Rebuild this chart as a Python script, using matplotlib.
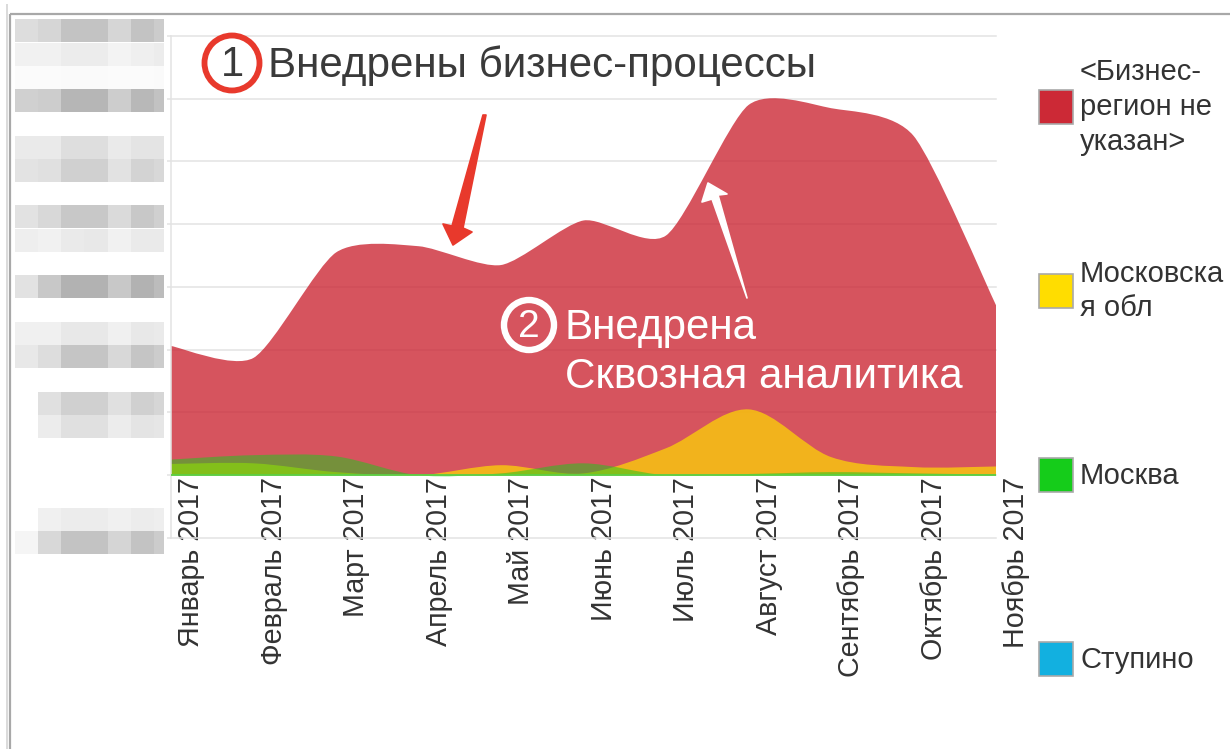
import matplotlib
matplotlib.use('Agg')
import matplotlib.pyplot as plt
from matplotlib.path import Path
from matplotlib.patches import PathPatch, Rectangle, Polygon, Circle
from matplotlib.transforms import ScaledTranslation

plt.rcParams['font.family'] = ['Liberation Sans', 'DejaVu Sans']

months = ['Январь 2017', 'Февраль 2017', 'Март 2017', 'Апрель 2017', 'Май 2017', 'Июнь 2017',
          'Июль 2017', 'Август 2017', 'Сентябрь 2017', 'Октябрь 2017', 'Ноябрь 2017']
region_none = [206, 187, 355, 365, 335, 406, 382, 590, 585, 541, 271]
moscow_obl = [18, 19, 5, 0, 16, 3, 43, 105, 29, 13, 14]
moscow = [25, 32, 30, 0, 3, 19, 0, 2, 5, 3, 1]
stupino = [0, 0, 0, 0, 0, 0, 0, 0, 0, 0, 0]

legend_labels = ['<Бизнес-\nрегион не\nуказан>', 'Московска\nя обл', 'Москва', 'Ступино']
legend_colors = ['#cc2936', '#ffdd00', '#15cc1a', '#12b0e0']

# pixelated labels on the left: top y, left x, greys per column
col_edges = [15, 38, 61, 84, 108, 131, 154, 164]
blur_rows = [
    (19, ['#dddddd', '#d6d6d6', '#c3c3c3', '#c3c3c3', '#d6d6d6', '#c3c3c3', '#cccccc']),
    (43, ['#f1f1f1', '#f1f1f1', '#ececec', '#ececec', '#f3f3f3', '#efefef', '#ececec']),
    (66, ['#fbfbfb', '#fbfbfb', '#fafafa', '#fafafa', '#fbfbfb', '#fbfbfb', '#fafafa']),
    (89, ['#d0d0d0', '#cdcdcd', '#b6b6b6', '#b6b6b6', '#cdcdcd', '#b8b8b8', '#c2c2c2']),
    (136, ['#eaeaea', '#eaeaea', '#dedede', '#dedede', '#eaeaea', '#e4e4e4', '#e4e4e4']),
    (159, ['#e3e3e3', '#e0e0e0', '#d0d0d0', '#d0d0d0', '#e2e2e2', '#d3d3d3', '#d8d8d8']),
    (205, ['#e2e2e2', '#d8d8d8', '#c8c8c8', '#c8c8c8', '#dadada', '#c8c8c8', '#d0d0d0']),
    (229, ['#eeeeee', '#f1f1f1', '#eaeaea', '#e8e8e8', '#f1f1f1', '#eaeaea', '#eaeaea']),
    (275, ['#e2e2e2', '#c8c8c8', '#b2b2b2', '#b2b2b2', '#c8c8c8', '#b2b2b2', '#bcbcbc']),
    (322, ['#f0f0f0', '#f0f0f0', '#e8e8e8', '#e8e8e8', '#f0f0f0', '#e8e8e8', '#eaeaea']),
    (345, ['#e8e8e8', '#dddddd', '#c5c5c5', '#c5c5c5', '#d8d8d8', '#c5c5c5', '#cccccc']),
    (392, ['#ffffff', '#e0e0e0', '#d0d0d0', '#d0d0d0', '#e0e0e0', '#d0d0d0', '#d6d6d6']),
    (415, ['#ffffff', '#ececec', '#e0e0e0', '#e0e0e0', '#ececec', '#e4e4e4', '#e6e6e6']),
    (508, ['#ffffff', '#f0f0f0', '#ececec', '#ececec', '#f0f0f0', '#ececec', '#eeeeee']),
    (531, ['#f5f5f5', '#d8d8d8', '#c3c3c3', '#c3c3c3', '#d5d5d5', '#c3c3c3', '#cccccc']),
]


def smooth_area(values, k=0.12):
    # cardinal spline through the monthly values, closed along zero
    n = len(values)
    verts = [(0, 0), (0, values[0])]
    codes = [Path.MOVETO, Path.LINETO]
    for i in range(n - 1):
        prev_v = values[max(i - 1, 0)]
        next_v = values[min(i + 2, n - 1)]
        prev_x = max(i - 1, 0)
        next_x = min(i + 2, n - 1)
        c1 = (i + (i + 1 - prev_x) * k, values[i] + (values[i + 1] - prev_v) * k)
        c2 = (i + 1 - (next_x - i) * k, values[i + 1] - (next_v - values[i]) * k)
        verts += [c1, c2, (i + 1, values[i + 1])]
        codes += [Path.CURVE4] * 3
    verts += [(n - 1, 0), (0, 0)]
    codes += [Path.LINETO, Path.CLOSEPOLY]
    return Path(verts, codes)


W, H = 1230, 749
fig = plt.figure(figsize=(W / 100, H / 100), dpi=100, facecolor='white')

# chart area in picture pixels: x 171-996, y 36-538
ax = fig.add_axes([171 / W, 1 - 538 / H, (996 - 171) / W, (538 - 36) / H])
ax.set_xlim(0, 10)
ax.set_ylim(-100, 700)
ax.set_yticks(range(-100, 701, 100))
ax.set_yticklabels([])
ax.set_xticks(range(len(months)))
ax.set_xticklabels(months, rotation=90, fontsize=20.6, color='#333333', va='top', ha='center')
ax.tick_params(axis='x', length=0, pad=2)
ax.tick_params(axis='y', length=3, width=1.1, color='#e3e3e3', pad=0)
for lab in ax.get_xticklabels():
    lab.set_transform(lab.get_transform() + ScaledTranslation(20 / 100, 64 / 100, fig.dpi_scale_trans))
ax.grid(axis='y', color='#e3e3e3', linewidth=1.1, clip_on=False)
ax.set_axisbelow(True)
for name in ['top', 'right', 'bottom']:
    ax.spines[name].set_visible(False)
ax.spines['left'].set_color('#e3e3e3')
ax.spines['left'].set_linewidth(1.1)

for vals, col, alpha, k in [(region_none, legend_colors[0], 0.8, 0.12), (moscow_obl, legend_colors[1], 0.7, 0.16),
                            (moscow, legend_colors[2], 0.5, 0.16), (stupino, legend_colors[3], 0.5, 0.16)]:
    ax.add_patch(PathPatch(smooth_area(vals, k), facecolor=col, edgecolor='none', alpha=alpha, zorder=2))
ax.axhline(0, color='#5ccf45', linewidth=1.3, zorder=3)

# everything else sits on an overlay in pixel coordinates
ov = fig.add_axes([0, 0, 1, 1], zorder=5)
ov.set_xlim(0, W)
ov.set_ylim(H, 0)
ov.axis('off')
ov.patch.set_alpha(0)

ov.plot([10, 1230], [14, 14], color='#a8a8a8', lw=1.6, solid_capstyle='butt')
ov.plot([9.5, 9.5], [14, 749], color='#a8a8a8', lw=1.6, solid_capstyle='butt')
ov.plot([6.5, 6.5], [4, 749], color='#d4d4d4', lw=1.2, solid_capstyle='butt')

for top, greys in blur_rows:
    for j, g in enumerate(greys):
        ov.add_patch(Rectangle((col_edges[j], top), col_edges[j + 1] - col_edges[j], 23,
                               facecolor=g, edgecolor='none'))

# legend
legend_y = [90, 274, 458, 642]
legend_text_y = [107, 291, 476, 660]
for lab, col, y, ty in zip(legend_labels, legend_colors, legend_y, legend_text_y):
    ov.add_patch(Rectangle((1039, y), 34, 34, facecolor=col, edgecolor='#a9a9a9', linewidth=1.2))
    ov.text(1080, ty, lab, fontsize=21, color='#333333', va='center', ha='left', linespacing=1.3)

# hand-drawn notes
ov.add_patch(Circle((232, 63), 27.5, facecolor='white', edgecolor='#e8392c', linewidth=4.2))
ov.text(232, 65, '1', fontsize=30, color='#3a3a3a', ha='center', va='center')
ov.text(268, 66, 'Внедрены бизнес-процессы', fontsize=30.3, color='#3a3a3a', ha='left', va='center')
ov.add_patch(Polygon([(483, 115), (486, 115), (463, 228), (472, 232), (453, 245), (443, 224), (452, 226)],
                     closed=True, facecolor='#e8392c', edgecolor='#e8392c', linewidth=1.2, joinstyle='round'))

ov.add_patch(Circle((529, 325), 25, facecolor='none', edgecolor='white', linewidth=4.6))
ov.text(529, 327, '2', fontsize=28, color='white', ha='center', va='center')
ov.text(565, 328, 'Внедрена', fontsize=30.3, color='white', ha='left', va='center')
ov.text(565, 377, 'Сквозная аналитика', fontsize=30.3, color='white', ha='left', va='center')
ov.add_patch(Polygon([(747, 298), (718, 195), (727, 194), (708, 183), (702, 202), (712, 199)],
                     closed=True, facecolor='white', edgecolor='white', linewidth=1.2, joinstyle='round'))

fig.savefig('out.png', dpi=100)
